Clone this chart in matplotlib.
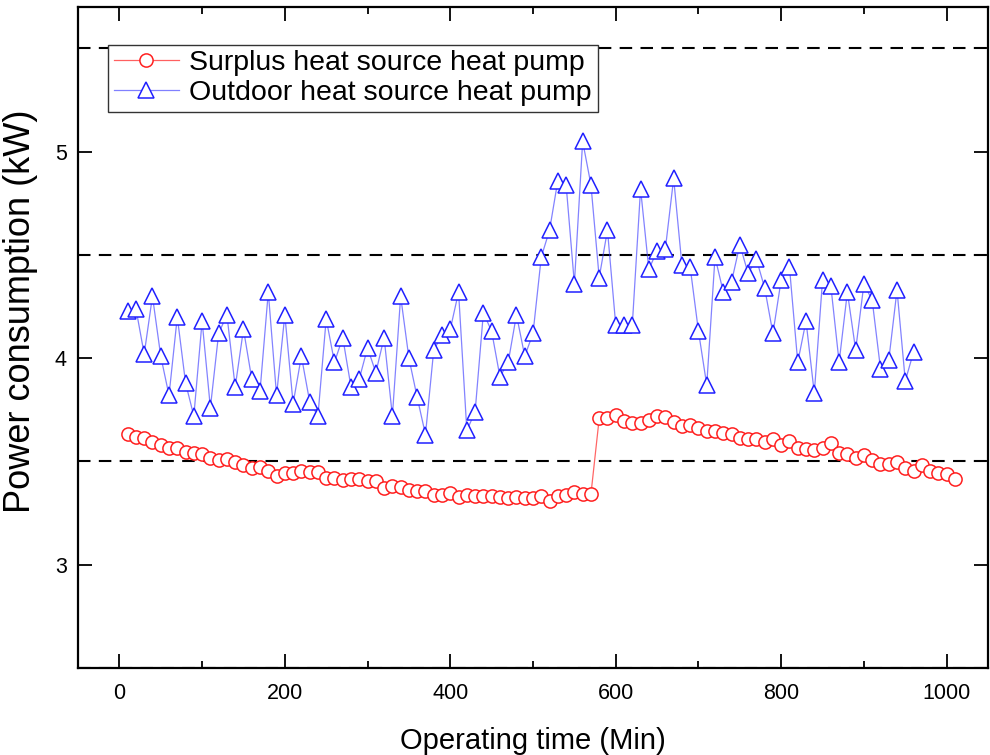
import numpy as np
import matplotlib
matplotlib.use('Agg')
import matplotlib.pyplot as plt
from matplotlib.ticker import MultipleLocator
from matplotlib.lines import Line2D

plt.rcParams['font.family'] = ['Liberation Sans', 'DejaVu Sans']

# --- data ---

t_surplus = np.arange(10, 1011, 10)
p_surplus = [3.635, 3.619, 3.614, 3.595, 3.58, 3.567, 3.567, 3.546, 3.541, 3.534,
             3.519, 3.506, 3.514, 3.498, 3.482, 3.466, 3.474, 3.453, 3.43, 3.445,
             3.445, 3.453, 3.447, 3.447, 3.42, 3.42, 3.412, 3.417, 3.417, 3.406,
             3.406, 3.372, 3.382, 3.377, 3.36, 3.356, 3.356, 3.34, 3.34, 3.348,
             3.328, 3.337, 3.332, 3.332, 3.332, 3.328, 3.323, 3.328, 3.325, 3.325,
             3.332, 3.307, 3.332, 3.337, 3.353, 3.341, 3.341,
             3.708, 3.711, 3.727, 3.696, 3.688, 3.684,
             3.70, 3.719, 3.713, 3.692, 3.671, 3.676, 3.66, 3.646, 3.646, 3.64,
             3.635, 3.614, 3.611, 3.611, 3.595, 3.608, 3.579, 3.598, 3.566, 3.558,
             3.554, 3.563, 3.587, 3.543, 3.534, 3.519, 3.53, 3.506, 3.49, 3.49,
             3.498, 3.466, 3.454, 3.482, 3.453, 3.445, 3.438, 3.417]

t_outdoor = np.arange(10, 961, 10)
p_outdoor = [4.23, 4.24, 4.02, 4.30, 4.01, 3.82, 4.20, 3.88, 3.72, 4.18,
             3.76, 4.12, 4.21, 3.86, 4.14, 3.90, 3.84, 4.32, 3.82, 4.21,
             3.78, 4.01, 3.79, 3.72, 4.19, 3.98, 4.10, 3.86, 3.90, 4.05,
             3.93, 4.10, 3.72, 4.30, 4.00, 3.81, 3.63, 4.04, 4.11, 4.14,
             4.32, 3.65, 3.74, 4.22, 4.13, 3.91, 3.98, 4.21, 4.01, 4.12,
             4.49, 4.62, 4.86, 4.84, 4.36, 5.05, 4.84, 4.39, 4.62, 4.16,
             4.16, 4.16, 4.82, 4.43, 4.52, 4.53, 4.87, 4.45, 4.44, 4.13,
             3.87, 4.49, 4.32, 4.37, 4.55, 4.41, 4.48, 4.34, 4.12, 4.38,
             4.44, 3.98, 4.18, 3.83, 4.38, 4.35, 3.98, 4.32, 4.04, 4.36,
             4.28, 3.95, 3.99, 4.33, 3.89, 4.03]

labels = ['Surplus heat source heat pump', 'Outdoor heat source heat pump']

fig = plt.figure(figsize=(9.9, 7.55), dpi=100)
ax = fig.add_axes([0.0788, 0.1152, 0.9192, 0.8755])

# thin connecting lines, then open markers on top
ax.plot(t_surplus, p_surplus, color='#ff0000', lw=0.9, alpha=0.6, zorder=3)
ax.plot(t_surplus, p_surplus, ls='none', marker='o', ms=9.5, mfc='white',
        mec='#ff2020', mew=1.1, zorder=4)
ax.plot(t_outdoor, p_outdoor, color='#3030ff', lw=0.9, alpha=0.6, zorder=3)
ax.plot(t_outdoor, p_outdoor, ls='none', marker='^', ms=11, mfc='white',
        mec='#2020ff', mew=1.1, zorder=4)

# legend handles: line + marker
h1 = Line2D([], [], color='#ff6060', lw=0.9, marker='o', ms=9.5, mfc='white',
            mec='#ff2020', mew=1.1)
h2 = Line2D([], [], color='#8080ff', lw=0.9, marker='^', ms=11, mfc='white',
            mec='#2020ff', mew=1.1)
leg = ax.legend([h1, h2], labels, loc='upper left',
                bbox_to_anchor=(0.033, 0.943), fontsize=20.5,
                fancybox=False, framealpha=1, edgecolor='#333333',
                handlelength=2.3, handletextpad=0.35, borderpad=0.2,
                labelspacing=0.12, borderaxespad=0)
leg.get_frame().set_linewidth(1.0)

ax.set_xlim(-50, 1050)
ax.set_ylim(2.5, 5.7)
ax.xaxis.set_major_locator(MultipleLocator(200))
ax.xaxis.set_minor_locator(MultipleLocator(100))
ax.yaxis.set_major_locator(MultipleLocator(1))
ax.yaxis.set_minor_locator(MultipleLocator(0.5))

# dashed lines sit on the half-kW minor ticks
ax.grid(which='minor', axis='y', color='black', ls=(0, (6, 4)), lw=1.5)
ax.set_axisbelow(True)

ax.tick_params(which='both', direction='in', top=True, right=True,
               labelsize=15.5, width=1.3)
ax.tick_params(axis='x', pad=11)
ax.tick_params(axis='y', pad=8)
ax.tick_params(which='major', length=10)
ax.tick_params(which='minor', length=5)
for s in ax.spines.values():
    s.set_linewidth(1.6)

ax.set_xlabel('Operating time (Min)', fontsize=21, labelpad=16)
ax.set_ylabel('Power consumption (kW)', fontsize=26)
ax.yaxis.set_label_coords(-0.044, 0.54)

fig.savefig('out.png', dpi=100)
